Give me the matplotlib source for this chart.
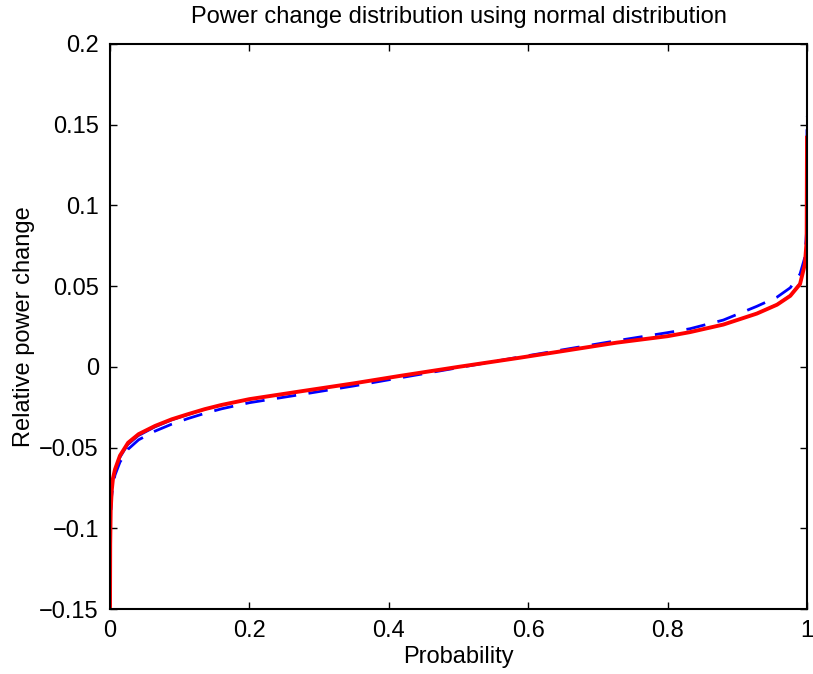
import matplotlib
matplotlib.use('Agg')
import matplotlib.pyplot as plt

plt.rcParams['font.family'] = ['Liberation Sans', 'DejaVu Sans']

# probabilities shared by the three curves
prob = [0, 0.0003, 0.001, 0.0024, 0.0043, 0.0072, 0.0143, 0.026, 0.041, 0.0646, 0.0885,
        0.112, 0.136, 0.16, 0.2, 0.273, 0.35, 0.416, 0.5, 0.584, 0.65, 0.727, 0.8, 0.832,
        0.88, 0.928, 0.957, 0.976, 0.99, 0.997, 0.9995, 1.0]

# red solid (thick)
v_red = [-0.15, -0.11, -0.089, -0.077, -0.069, -0.0635, -0.055, -0.047, -0.0417, -0.0366,
         -0.0325, -0.0293, -0.0262, -0.0236, -0.0200, -0.0152, -0.0102, -0.0056, 0.0,
         0.0054, 0.0098, 0.0150, 0.0190, 0.0215, 0.0262, 0.0330, 0.0385, 0.0440, 0.0513,
         0.0637, 0.078, 0.142]

# blue solid (thin)
v_blue = [-0.15, -0.112, -0.091, -0.079, -0.071, -0.0655, -0.0568, -0.0485, -0.0430,
          -0.0376, -0.0333, -0.0299, -0.0266, -0.0239, -0.0202, -0.0153, -0.0102, -0.0056,
          0.0, 0.0054, 0.0098, 0.0151, 0.0191, 0.0216, 0.0264, 0.0333, 0.0389, 0.0446,
          0.0522, 0.0650, 0.082, 0.169]

# blue dashed
v_dash = [-0.148, -0.11, -0.092, -0.080, -0.073, -0.067, -0.059, -0.051, -0.0452, -0.0398,
          -0.0355, -0.0320, -0.0288, -0.0260, -0.0222, -0.0172, -0.0118, -0.0068, -0.0005,
          0.0058, 0.0106, 0.0162, 0.0212, 0.0236, 0.0290, 0.0375, 0.0432, 0.0490, 0.0575,
          0.068, 0.085, 0.155]

fig = plt.figure(figsize=(8.13, 6.74), dpi=100)
ax = fig.add_axes([110 / 813, 1 - 609 / 674, 697 / 813, 565 / 674])

ax.plot(prob, v_blue, color='blue', lw=1.0)
ax.plot(prob, v_dash, color='blue', lw=2.0, ls=(0, (7, 4.5)))
ax.plot(prob, v_red, color='red', lw=2.8)

ax.set_xlim(0, 1)
ax.set_ylim(-0.15, 0.2)
ax.set_xticks([0, 0.2, 0.4, 0.6, 0.8, 1])
ax.set_xticklabels(['0', '0.2', '0.4', '0.6', '0.8', '1'])
ax.set_yticks([-0.15, -0.1, -0.05, 0, 0.05, 0.1, 0.15, 0.2])
ax.set_yticklabels(['\u22120.15', '\u22120.1', '\u22120.05', '0', '0.05', '0.1', '0.15', '0.2'])
ax.tick_params(direction='in', length=5, width=1, labelsize=17, top=True, right=True, pad=8)
for s in ax.spines.values():
    s.set_linewidth(1.5)

ax.set_title('Power change distribution using normal distribution', fontsize=17, pad=15)
ax.set_xlabel('Probability', fontsize=17, labelpad=3)
ax.set_ylabel('Relative power change', fontsize=17, labelpad=3)

fig.savefig('out.png', dpi=100)
